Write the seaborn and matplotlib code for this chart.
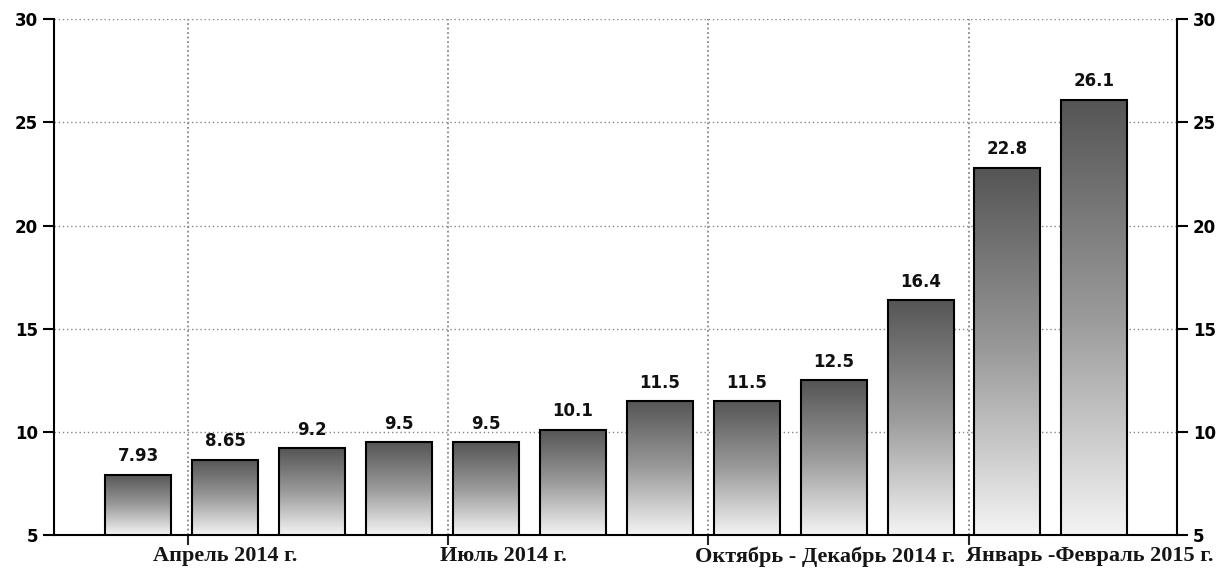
import numpy as np
import pandas as pd
import seaborn as sns
import matplotlib.pyplot as plt

# values
values = [7.93, 8.65, 9.2, 9.5, 9.5, 10.1, 11.5, 11.5, 12.5, 16.4, 22.8, 26.1]
value_labels = ["7.93", "8.65", "9.2", "9.5", "9.5", "10.1", "11.5", "11.5",
                "12.5", "16.4", "22.8", "26.1"]
period_labels = ["Апрель 2014 г.", "Июль 2014 г.",
                 "Октябрь - Декабрь 2014 г.", "Январь -Февраль 2015 г."]
period_label_pos = [1.0, 4.2, 7.9, 10.95]
period_bounds = [0.57, 3.56, 6.56, 9.56]
y_ticks = [5, 10, 15, 20, 25, 30]

sns.set_style("white")

df = pd.DataFrame({"pos": np.arange(len(values)), "val": values})

fig = plt.figure(figsize=(12.18, 5.75), dpi=100)
ax = fig.add_axes([0.0443, 0.0696, 0.922, 0.897])

sns.barplot(data=df, x="pos", y="val", width=0.76, color="white",
            edgecolor="black", linewidth=1.5, ax=ax, native_scale=True)
ax.set_ylim(5, 30)
ax.set_xlim(-0.97, 11.95)

# gradient fill for every bar: dark on top, light at the bottom
grad = np.linspace(0, 1, 256).reshape(-1, 1)
cmap = plt.matplotlib.colors.LinearSegmentedColormap.from_list(
    "g", ["#f4f4f4", "#9a9a9a", "#555555"])
for p in ax.patches:
    x0, w, h = p.get_x(), p.get_width(), p.get_height()
    im = ax.imshow(grad, extent=[x0, x0 + w, 5, h], origin="lower",
                   cmap=cmap, aspect="auto", zorder=p.get_zorder() - 0.1)
    im.set_clip_path(p)
    p.set_facecolor("none")
    p.set_zorder(3)

for p, lab in zip(ax.patches, value_labels):
    ax.text(p.get_x() + p.get_width() / 2, p.get_height() + 0.45, lab,
            ha="center", va="bottom", fontsize=12, fontweight="bold",
            family="DejaVu Sans", color="#111111")

# y axis both sides
ax.set_yticks(y_ticks)
ax.tick_params(axis="y", which="major", direction="out", length=8, width=1.5,
               labelsize=12, left=True, right=True, labelright=True,
               colors="black")
for t in ax.get_yticklabels():
    t.set_fontweight("bold")

# x axis: labels at period positions, ticks/grid at period boundaries
ax.set_xticks(period_label_pos)
ax.set_xticklabels(period_labels, family="Liberation Serif", fontsize=16,
                   fontweight="bold", color="#151515")
ax.set_xticks(period_bounds, minor=True)
ax.tick_params(axis="x", which="major", length=0, pad=8)
ax.tick_params(axis="x", which="minor", direction="out", length=7, width=1.5,
               bottom=True)

ax.set_xlabel("")
ax.set_ylabel("")

ax.grid(False)
ax.yaxis.grid(True, linestyle=(0, (1, 2)), color="#888888", linewidth=1)
ax.xaxis.grid(True, which="minor", linestyle=(0, (1, 1.5)), color="#888888",
              linewidth=1.3)
ax.set_axisbelow(True)

for s in ["left", "right", "bottom"]:
    ax.spines[s].set_visible(True)
    ax.spines[s].set_color("black")
    ax.spines[s].set_linewidth(1.5)
ax.spines["top"].set_visible(False)

fig.savefig("out.png", dpi=100)
